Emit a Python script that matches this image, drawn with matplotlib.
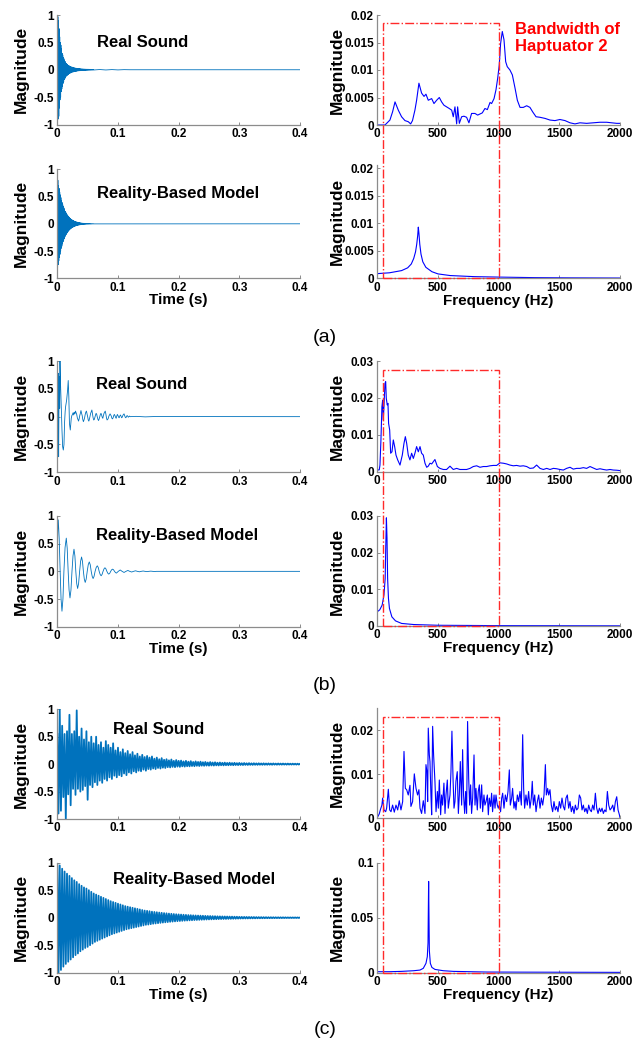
import numpy as np
import matplotlib
matplotlib.use("Agg")
import matplotlib.pyplot as plt
from matplotlib.patches import Rectangle

plt.rcParams["font.family"] = ["Liberation Sans", "DejaVu Sans"]
plt.rcParams["font.weight"] = "bold"
plt.rcParams["axes.labelweight"] = "bold"

W, H = 634, 1045
TIME_BLUE = "#0072BD"
SPEC_BLUE = "#0000FF"
AXIS_GRAY = "#8c8c8c"

# ---------------- time signals ----------------
# (a) short bursts, envelope extremes every 1 ms
a_step = 0.001
a1_upper = [0.55, 0.97, 0.9, 0.75, 0.6, 0.5, 0.45, 0.38, 0.3, 0.27,
            0.22, 0.2, 0.16, 0.15, 0.12, 0.11, 0.1, 0.09, 0.08, 0.07,
            0.07, 0.06, 0.06, 0.05, 0.05, 0.045, 0.04, 0.04, 0.035, 0.03,
            0.03, 0.028, 0.025, 0.024, 0.022, 0.02, 0.02, 0.018, 0.017, 0.016,
            0.015, 0.015, 0.014, 0.013, 0.012, 0.012, 0.011, 0.01, 0.01, 0.01,
            0.009, 0.009, 0.008, 0.008, 0.007, 0.007, 0.006, 0.006, 0.006, 0.005,
            0.005]
a1_lower = [-0.6, -0.9, -0.85, -0.7, -0.55, -0.5, -0.4, -0.35, -0.3, -0.25,
            -0.22, -0.18, -0.16, -0.14, -0.12, -0.11, -0.1, -0.09, -0.08, -0.07,
            -0.065, -0.06, -0.055, -0.05, -0.045, -0.04, -0.04, -0.035, -0.032, -0.03,
            -0.028, -0.026, -0.024, -0.022, -0.02, -0.019, -0.018, -0.017, -0.016, -0.015,
            -0.014, -0.013, -0.012, -0.012, -0.011, -0.01, -0.01, -0.009, -0.009, -0.008,
            -0.008, -0.007, -0.007, -0.007, -0.006, -0.006, -0.005, -0.005, -0.005, -0.004,
            -0.004]
a1_tail_t = [0.07, 0.08, 0.09, 0.1, 0.11, 0.12, 0.4]
a1_tail = [0.004, -0.004, 0.003, -0.003, 0.002, 0.0, 0.0]

a2_upper = [0.95, 0.8, 0.7, 0.65, 0.58, 0.53, 0.48, 0.43, 0.39, 0.35,
            0.32, 0.29, 0.26, 0.23, 0.21, 0.19, 0.17, 0.155, 0.14, 0.125,
            0.11, 0.1, 0.09, 0.082, 0.074, 0.066, 0.06, 0.054, 0.048, 0.044,
            0.04, 0.036, 0.032, 0.029, 0.026, 0.023, 0.021, 0.019, 0.017, 0.015,
            0.014, 0.012, 0.011, 0.01, 0.009, 0.008, 0.007, 0.0065, 0.006, 0.005,
            0.0045, 0.004, 0.0036, 0.0032, 0.003, 0.0027, 0.0024, 0.0022, 0.002, 0.0018,
            0.0016]
a2_lower = [-0.8, -0.75, -0.68, -0.62, -0.56, -0.5, -0.45, -0.41, -0.37, -0.33,
            -0.3, -0.27, -0.24, -0.22, -0.2, -0.18, -0.16, -0.145, -0.13, -0.118,
            -0.105, -0.095, -0.085, -0.078, -0.07, -0.063, -0.057, -0.051, -0.046, -0.042,
            -0.038, -0.034, -0.031, -0.028, -0.025, -0.022, -0.02, -0.018, -0.016, -0.015,
            -0.013, -0.012, -0.011, -0.0095, -0.0085, -0.0075, -0.007, -0.006, -0.0055, -0.005,
            -0.0045, -0.004, -0.0036, -0.0032, -0.0029, -0.0026, -0.0023, -0.0021, -0.0019, -0.0017,
            -0.0015]
a2_tail_t = [0.4]
a2_tail = [0.0]

# (b) real sound: first 24 ms point by point, then one value per ms
b1_head_ms = [0, 0.5, 1.0, 1.6, 2.2, 2.8, 3.3, 3.9, 4.4, 5.0,
              6.0, 7.0, 7.7, 8.8, 9.9, 11.0, 12.0, 13.0, 13.7, 15.4,
              17.0, 18.0, 19.0, 20.0, 21.4, 23.0, 24.0]
b1_head = [0.0, 0.25, -0.3, 0.78, -0.72, 0.35, 0.72, 0.15, 1.0, 0.7,
           0.36, 0.02, -0.24, -0.54, -0.6, -0.5, -0.1, 0.1, 0.18, 0.3,
           0.48, 0.65, 0.36, -0.12, -0.24, -0.03, 0.02]
b1_body_start_ms = 25
b1_body = [0.04, 0.07, 0.03, 0.08, 0.05, 0.1, 0.07, 0.04, -0.02, -0.05,
           -0.08, -0.04, 0.02, 0.06, 0.11, 0.06, 0.02, -0.05, -0.09, -0.06,
           -0.02, 0.04, 0.08, 0.1, 0.05, 0.0, -0.06, -0.08, -0.04, 0.01,
           0.06, 0.09, 0.12, 0.05, -0.02, -0.06, -0.05, -0.01, 0.03, 0.06,
           0.04, -0.01, -0.05, -0.07, -0.04, 0.0, 0.04, 0.06, 0.03, -0.01,
           -0.03, 0.02, 0.06, 0.08, 0.1, 0.05, -0.02, -0.06, -0.05, -0.03,
           0.01, 0.03, 0.05, 0.03, 0.01, -0.03, -0.04, -0.02, 0.02, 0.04,
           0.02, -0.01, -0.03, 0.01, 0.04, 0.02, -0.01, -0.02, 0.01, 0.03,
           0.01, -0.02, -0.01, 0.02, 0.04, 0.05, 0.02, -0.01, -0.02, 0.0,
           0.02, 0.01, -0.01, 0.0, 0.01, 0.0]
b1_end_ms = [130, 145, 160, 400]
b1_end = [0.005, -0.004, 0.002, 0.0]

b2_ms = [0, 0.8, 1.6, 3.1, 4.7, 6.2, 7.7, 9.3, 10.9, 12.8,
         14.8, 16.3, 17.9, 19.4, 20.9, 22.5, 24.2, 25.9, 27.5, 29.0,
         30.5, 32.0, 33.5, 35.1, 36.8, 38.4, 40.0, 41.5, 43.0, 44.5,
         46.0, 47.6, 49.3, 51.0, 52.7, 54.3, 55.9, 57.5, 59.0, 60.6,
         62.3, 64.1, 65.9, 67.5, 69.0, 70.6, 72.2, 73.8, 75.4, 77.0,
         78.5, 80.1, 81.7, 83.3, 84.8, 86.4, 88.0, 89.5, 91.1, 92.7,
         94.3, 95.9, 97.4, 100.5, 103.7, 106.8, 110.0, 113.1, 116.3, 119.4,
         122.6, 125.7, 128.9, 132.0, 135.2, 138.3, 141.5, 144.6, 147.8, 150.9,
         154.1, 157.2, 160.4, 163.5, 170, 400]
b2_val = [0.3, 0.75, 0.93, 0.6, 0.0, -0.5, -0.72, -0.5, 0.0, 0.43,
          0.6, 0.42, 0.0, -0.34, -0.48, -0.34, 0.0, 0.28, 0.4, 0.28,
          0.0, -0.22, -0.31, -0.22, 0.0, 0.18, 0.26, 0.18, 0.0, -0.14,
          -0.2, -0.14, 0.0, 0.12, 0.17, 0.12, 0.0, -0.09, -0.13, -0.09,
          0.0, 0.07, 0.1, 0.07, 0.0, -0.055, -0.08, -0.055, 0.0, 0.045,
          0.065, 0.045, 0.0, -0.035, -0.05, -0.035, 0.0, 0.028, 0.04, 0.028,
          0.0, -0.022, -0.032, 0.0, 0.025, 0.0, -0.02, 0.0, 0.016, 0.0,
          -0.012, 0.0, 0.01, 0.0, -0.008, 0.0, 0.006, 0.0, -0.005, 0.0,
          0.004, 0.0, -0.003, 0.0, 0.0, 0.0]

# (c) long decays, envelope extremes every 4 ms
c_step = 0.004
c1_upper = [0.55, 1.0, 0.7, 0.55, 0.6, 0.9, 0.55, 0.6, 0.98, 0.5,
            0.65, 0.45, 0.6, 0.4, 0.5, 0.38, 0.5, 0.35, 0.4, 0.3,
            0.42, 0.35, 0.3, 0.38, 0.25, 0.3, 0.22, 0.27, 0.2, 0.24,
            0.18, 0.22, 0.16, 0.19, 0.14, 0.17, 0.13, 0.15, 0.12, 0.14,
            0.1, 0.12, 0.09, 0.11, 0.08, 0.09, 0.07, 0.085, 0.06, 0.075,
            0.06, 0.065, 0.05, 0.06, 0.045, 0.055, 0.04, 0.05, 0.04, 0.045,
            0.035, 0.04, 0.03, 0.038, 0.03, 0.034, 0.026, 0.03, 0.024, 0.028,
            0.022, 0.026, 0.02, 0.024, 0.018, 0.022, 0.017, 0.02, 0.016, 0.019,
            0.015, 0.017, 0.014, 0.016, 0.013, 0.015, 0.012, 0.014, 0.011, 0.013,
            0.01, 0.012, 0.01, 0.011, 0.009, 0.01, 0.008, 0.009, 0.008, 0.008,
            0.007]
c1_lower = [-0.9, -0.85, -0.6, -1.0, -0.55, -0.75, -0.45, -0.56, -0.45, -0.5,
            -0.47, -0.4, -0.65, -0.38, -0.42, -0.33, -0.38, -0.3, -0.34, -0.27,
            -0.3, -0.24, -0.27, -0.21, -0.24, -0.2, -0.22, -0.17, -0.2, -0.15,
            -0.17, -0.13, -0.15, -0.12, -0.13, -0.1, -0.12, -0.09, -0.1, -0.08,
            -0.09, -0.07, -0.08, -0.065, -0.07, -0.055, -0.06, -0.05, -0.055, -0.045,
            -0.05, -0.04, -0.045, -0.038, -0.04, -0.034, -0.037, -0.03, -0.034, -0.028,
            -0.03, -0.026, -0.028, -0.024, -0.026, -0.022, -0.024, -0.02, -0.022, -0.019,
            -0.02, -0.017, -0.019, -0.016, -0.017, -0.015, -0.016, -0.014, -0.015, -0.013,
            -0.014, -0.012, -0.013, -0.011, -0.012, -0.011, -0.011, -0.01, -0.011, -0.009,
            -0.01, -0.009, -0.009, -0.008, -0.009, -0.008, -0.008, -0.007, -0.008, -0.007,
            -0.006]
c2_upper = [1.0, 0.95, 0.89, 0.84, 0.8, 0.76, 0.72, 0.68, 0.65, 0.61,
            0.58, 0.55, 0.53, 0.5, 0.47, 0.44, 0.42, 0.4, 0.38, 0.36,
            0.34, 0.32, 0.3, 0.285, 0.27, 0.255, 0.24, 0.225, 0.21, 0.2,
            0.19, 0.18, 0.17, 0.16, 0.15, 0.14, 0.13, 0.125, 0.118, 0.11,
            0.105, 0.1, 0.094, 0.089, 0.084, 0.08, 0.075, 0.071, 0.067, 0.063,
            0.06, 0.057, 0.054, 0.051, 0.048, 0.046, 0.043, 0.041, 0.039, 0.037,
            0.035, 0.033, 0.031, 0.03, 0.028, 0.027, 0.025, 0.024, 0.023, 0.022,
            0.021, 0.02, 0.019, 0.018, 0.017, 0.016, 0.015, 0.0145, 0.014, 0.013,
            0.0125, 0.012, 0.011, 0.0105, 0.01, 0.0095, 0.009, 0.0085, 0.008, 0.0077,
            0.0073, 0.007, 0.0066, 0.0063, 0.006, 0.0057, 0.0054, 0.0051, 0.0049, 0.0047,
            0.0045]
c2_lower = [-1.0, -0.95, -0.89, -0.84, -0.8, -0.76, -0.72, -0.68, -0.65, -0.61,
            -0.58, -0.55, -0.53, -0.5, -0.47, -0.44, -0.42, -0.4, -0.38, -0.36,
            -0.34, -0.32, -0.3, -0.285, -0.27, -0.255, -0.24, -0.225, -0.21, -0.2,
            -0.19, -0.18, -0.17, -0.16, -0.15, -0.14, -0.13, -0.125, -0.118, -0.11,
            -0.105, -0.1, -0.094, -0.089, -0.084, -0.08, -0.075, -0.071, -0.067, -0.063,
            -0.06, -0.057, -0.054, -0.051, -0.048, -0.046, -0.043, -0.041, -0.039, -0.037,
            -0.035, -0.033, -0.031, -0.03, -0.028, -0.027, -0.025, -0.024, -0.023, -0.022,
            -0.021, -0.02, -0.019, -0.018, -0.017, -0.016, -0.015, -0.0145, -0.014, -0.013,
            -0.0125, -0.012, -0.011, -0.0105, -0.01, -0.0095, -0.009, -0.0085, -0.008, -0.0077,
            -0.0073, -0.007, -0.0066, -0.0063, -0.006, -0.0057, -0.0054, -0.0051, -0.0049, -0.0047,
            -0.0045]

# ---------------- spectra ----------------
a1_freq = [0, 63, 77, 104, 126, 146, 173, 200, 228, 255,
           275, 290, 310, 324, 343, 365, 385, 401, 420, 448,
           467, 489, 511, 530, 549, 571, 593, 613, 626, 640,
           654, 662, 676, 695, 714, 736, 755, 777, 805, 827,
           846, 865, 887, 907, 929, 942, 962, 978, 992, 1005,
           1016, 1030, 1044, 1058, 1071, 1093, 1113, 1135, 1154, 1176,
           1203, 1231, 1258, 1280, 1308, 1341, 1382, 1423, 1464, 1505,
           1547, 1588, 1629, 1670, 1725, 1780, 1835, 1890, 1931, 1973,
           2000]
a1_mag = [0.0, 0.0, 0.0003, 0.0009, 0.0024, 0.0042, 0.0027, 0.0015, 0.0008, 0.0006,
          0.0002, 0.0008, 0.0027, 0.0045, 0.0076, 0.0058, 0.0052, 0.0056, 0.0045, 0.0048,
          0.0039, 0.0045, 0.005, 0.0042, 0.0036, 0.0033, 0.003, 0.0027, 0.0015, 0.0033,
          0.0002, 0.0033, 0.0003, 0.0015, 0.0016, 0.0014, 0.0004, 0.0021, 0.0021, 0.0018,
          0.002, 0.0022, 0.003, 0.0028, 0.0041, 0.0039, 0.0048, 0.0064, 0.0085, 0.0109,
          0.0148, 0.017, 0.0155, 0.0115, 0.0106, 0.01, 0.0091, 0.0067, 0.0045, 0.0032,
          0.0032, 0.0035, 0.0032, 0.0024, 0.0015, 0.0014, 0.0012, 0.0009, 0.0008, 0.001,
          0.0008, 0.0004, 0.0002, 0.0004, 0.0003, 0.0004, 0.0005, 0.0005, 0.0004, 0.0003,
          0.0003]

a2_freq = [0, 100, 200, 250, 280, 300, 315, 325, 333, 338,
           343, 350, 360, 375, 400, 450, 500, 600, 800, 1000,
           1300, 1600, 2000]
a2_mag = [0.00085, 0.001, 0.0014, 0.0019, 0.0026, 0.0036, 0.0048, 0.0062, 0.0078, 0.0093,
          0.0082, 0.0062, 0.0044, 0.003, 0.002, 0.0012, 0.0008, 0.0005, 0.0003, 0.00022,
          0.00012, 0.00008, 0.00005]

b1_freq = [0, 16, 22, 30, 38, 44, 49, 55, 63, 69,
           74, 82, 88, 93, 102, 110, 121, 132, 143, 154,
           168, 187, 206, 220, 231, 242, 255, 269, 283, 297,
           310, 324, 338, 352, 365, 379, 393, 407, 420, 434,
           448, 475, 495, 516, 544, 571, 599, 626, 654, 681,
           709, 736, 764, 791, 819, 846, 874, 901, 929, 956,
           984, 1011, 1038, 1066, 1093, 1121, 1148, 1176, 1203, 1231,
           1258, 1286, 1313, 1341, 1368, 1396, 1423, 1451, 1478, 1505,
           1533, 1560, 1588, 1615, 1643, 1670, 1698, 1725, 1753, 1780,
           1808, 1835, 1863, 1890, 1918, 1945, 1973, 2000]
b1_mag = [0.00045, 0.0005, 0.0018, 0.0086, 0.0176, 0.0194, 0.014, 0.0176, 0.0239, 0.0244,
          0.0199, 0.0181, 0.0185, 0.0131, 0.0113, 0.005, 0.0054, 0.0086, 0.0068, 0.0045,
          0.0032, 0.0018, 0.0045, 0.0077, 0.0095, 0.0077, 0.0045, 0.0032, 0.005, 0.0036,
          0.005, 0.0068, 0.0054, 0.0068, 0.005, 0.0045, 0.0023, 0.0012, 0.0015, 0.0023,
          0.0021, 0.0033, 0.0014, 0.0009, 0.0006, 0.0006, 0.0015, 0.0006, 0.0009, 0.0006,
          0.0006, 0.0006, 0.0009, 0.0014, 0.0016, 0.0012, 0.0014, 0.0014, 0.0016, 0.0017,
          0.0017, 0.0024, 0.0023, 0.0021, 0.0018, 0.0016, 0.0017, 0.0015, 0.0016, 0.0014,
          0.0009, 0.001, 0.0018, 0.0009, 0.0006, 0.0009, 0.0006, 0.0009, 0.0008, 0.0006,
          0.00045, 0.0009, 0.0012, 0.0007, 0.0009, 0.0009, 0.0011, 0.0009, 0.0014, 0.001,
          0.0006, 0.0008, 0.0006, 0.00045, 0.0006, 0.00045, 0.0004, 0.0003]

b2_freq = [0, 20, 40, 55, 65, 70, 75, 80, 85, 92,
           100, 120, 150, 200, 300, 500, 1000, 2000]
b2_mag = [0.0039, 0.0044, 0.0057, 0.0085, 0.013, 0.022, 0.0295, 0.024, 0.013, 0.0075,
          0.0048, 0.0025, 0.0014, 0.0007, 0.0004, 0.0002, 0.0001, 0.00005]

c1_freq = [0, 16, 27, 38, 44, 55, 69, 77, 91, 102,
           113, 126, 140, 154, 168, 181, 195, 209, 220, 231,
           242, 255, 269, 277, 291, 305, 319, 332, 343, 352,
           365, 379, 393, 401, 409, 415, 420, 429, 434, 442,
           448, 456, 464, 475, 484, 495, 503, 511, 522, 530,
           538, 549, 558, 566, 577, 585, 599, 607, 615, 624,
           632, 640, 648, 659, 668, 676, 684, 695, 703, 711,
           720, 728, 736, 744, 753, 761, 769, 777, 786, 797,
           805, 813, 824, 832, 841, 849, 860, 868, 879, 887,
           896, 907, 915, 923, 934, 942, 950, 962, 970, 978,
           989, 997, 1005, 1016, 1025, 1033, 1044, 1055, 1066, 1077,
           1088, 1096, 1107, 1115, 1126, 1135, 1143, 1154, 1165, 1176,
           1187, 1198, 1206, 1214, 1225, 1236, 1247, 1258, 1269, 1277,
           1286, 1297, 1308, 1319, 1330, 1341, 1352, 1363, 1374, 1385,
           1393, 1404, 1412, 1423, 1434, 1445, 1456, 1467, 1478, 1489,
           1500, 1511, 1522, 1533, 1544, 1555, 1566, 1577, 1588, 1599,
           1610, 1621, 1632, 1643, 1654, 1665, 1676, 1687, 1698, 1709,
           1720, 1731, 1742, 1753, 1764, 1775, 1786, 1797, 1808, 1819,
           1830, 1841, 1852, 1863, 1874, 1885, 1896, 1907, 1918, 1929,
           1940, 1951, 1962, 1973, 1984, 1995, 2000]
c1_mag = [0.00015, 0.001, 0.0021, 0.003, 0.0046, 0.0019, 0.0015, 0.0023, 0.0066, 0.0019,
          0.0015, 0.003, 0.0014, 0.003, 0.0019, 0.004, 0.0019, 0.0038, 0.0152, 0.0068,
          0.0065, 0.0053, 0.0075, 0.0027, 0.0038, 0.0101, 0.0068, 0.0053, 0.0065, 0.0023,
          0.0011, 0.004, 0.0011, 0.0122, 0.0106, 0.0038, 0.0205, 0.0144, 0.0129, 0.0053,
          0.0008, 0.0209, 0.0144, 0.0084, 0.0015, 0.0061, 0.0023, 0.0087, 0.0008, 0.0053,
          0.003, 0.008, 0.0011, 0.0053, 0.0087, 0.0023, 0.0053, 0.0106, 0.0198, 0.0091,
          0.0023, 0.0038, 0.0084, 0.0106, 0.0011, 0.0053, 0.0129, 0.003, 0.0156, 0.0053,
          0.0011, 0.0061, 0.0011, 0.022, 0.0091, 0.003, 0.0076, 0.0011, 0.0046, 0.0144,
          0.003, 0.0068, 0.0019, 0.0061, 0.0076, 0.0023, 0.0076, 0.0015, 0.0053, 0.003,
          0.0038, 0.0053, 0.0008, 0.0046, 0.0027, 0.0057, 0.0015, 0.0053, 0.0023, 0.0053,
          0.003, 0.0023, 0.003, 0.0015, 0.0046, 0.0057, 0.0023, 0.0053, 0.0038, 0.0061,
          0.011, 0.003, 0.0046, 0.0068, 0.0023, 0.0038, 0.0019, 0.0053, 0.0038, 0.0061,
          0.003, 0.019, 0.0068, 0.0023, 0.0053, 0.003, 0.0061, 0.0023, 0.0046, 0.0084,
          0.003, 0.0053, 0.0015, 0.0038, 0.0053, 0.0023, 0.0046, 0.003, 0.0053, 0.0122,
          0.0053, 0.0068, 0.0053, 0.0065, 0.003, 0.0015, 0.0038, 0.0019, 0.0027, 0.0015,
          0.0038, 0.0023, 0.0046, 0.0027, 0.0019, 0.0046, 0.0053, 0.0023, 0.0038, 0.0015,
          0.0027, 0.0011, 0.003, 0.0019, 0.0023, 0.0053, 0.0046, 0.0019, 0.003, 0.0015,
          0.0023, 0.0011, 0.003, 0.0019, 0.0015, 0.003, 0.0019, 0.0057, 0.0023, 0.0011,
          0.0023, 0.0015, 0.0023, 0.0011, 0.0019, 0.0015, 0.0061, 0.003, 0.0019, 0.0023,
          0.003, 0.0015, 0.0038, 0.0049, 0.0019, 0.0008, 0.00015]

c2_freq = [0, 100, 200, 300, 352, 379, 401, 412, 418, 420,
           423, 426, 429, 437, 450, 475, 544, 626, 764, 901,
           1176, 1600, 2000]
c2_mag = [0.0009, 0.0009, 0.0012, 0.0018, 0.0024, 0.004, 0.0085, 0.0145, 0.027, 0.051,
          0.083, 0.05, 0.02, 0.0085, 0.0048, 0.003, 0.0018, 0.0012, 0.0009, 0.0006,
          0.0005, 0.0004, 0.0003]

# haptuator band drawn as a dash-dot box over each pair of spectra
band_lo, band_hi = 50, 1000
band_top = {"a": 0.0186, "b": 0.0276, "c": 0.0231}


def px_rect(left, top, right, bottom):
    return [left / W, 1 - bottom / H, (right - left) / W, (bottom - top) / H]


def zigzag(step, upper, lower):
    t = step * np.arange(len(upper))
    tt = np.column_stack([t, t + step / 2]).ravel()
    yy = np.column_stack([upper, lower]).ravel()
    return tt, yy


def style(ax):
    for side in ("top", "right"):
        ax.spines[side].set_visible(False)
    for side in ("left", "bottom"):
        ax.spines[side].set_color(AXIS_GRAY)
        ax.spines[side].set_linewidth(0.9)
    ax.tick_params(direction="in", length=2.5, width=0.7, color=AXIS_GRAY,
                   labelsize=8.5, pad=2.5)
    for lab in ax.get_xticklabels() + ax.get_yticklabels():
        lab.set_fontweight("bold")


def time_axes(rect, t, y, label, text_xy, xlabel=False, lw=0.6):
    ax = fig.add_axes(rect)
    ax.plot(t, y, color=TIME_BLUE, lw=lw)
    ax.set_xlim(0, 0.4)
    ax.set_ylim(-1, 1)
    ax.set_xticks([0, 0.1, 0.2, 0.3, 0.4], ["0", "0.1", "0.2", "0.3", "0.4"])
    ax.set_yticks([-1, -0.5, 0, 0.5, 1], ["-1", "-0.5", "0", "0.5", "1"])
    style(ax)
    ax.set_ylabel("Magnitude", fontsize=12.5, fontweight="bold")
    ax.yaxis.set_label_coords(-0.119, 0.5)
    if xlabel:
        ax.set_xlabel("Time (s)", fontsize=11, fontweight="bold")
        ax.xaxis.set_label_coords(0.5, -0.135)
    ax.text(text_xy[0], text_xy[1], label, transform=ax.transAxes,
            fontsize=12, fontweight="bold", ha="left", va="center")
    return ax


def spec_axes(rect, f, m, ymax, ticks, ticklabels, xlabel=False):
    ax = fig.add_axes(rect)
    ax.plot(f, m, color=SPEC_BLUE, lw=0.8)
    ax.set_xlim(0, 2000)
    ax.set_ylim(0, ymax)
    ax.set_xticks([0, 500, 1000, 1500, 2000], ["0", "500", "1000", "1500", "2000"])
    ax.set_yticks(ticks, ticklabels)
    style(ax)
    ax.set_ylabel("Magnitude", fontsize=12.5, fontweight="bold")
    ax.yaxis.set_label_coords(-0.133, 0.5)
    if xlabel:
        ax.set_xlabel("Frequency (Hz)", fontsize=11, fontweight="bold")
        ax.xaxis.set_label_coords(0.5, -0.135)
    return ax


def band_box(ax_top, ax_bottom, top):
    inv = fig.transFigure.inverted()
    x0, y1 = inv.transform(ax_top.transData.transform((band_lo, top)))
    x1, _ = inv.transform(ax_top.transData.transform((band_hi, top)))
    _, y0 = inv.transform(ax_bottom.transData.transform((band_lo, 0)))
    fig.add_artist(Rectangle((x0, y0), x1 - x0, y1 - y0, transform=fig.transFigure,
                             fill=False, edgecolor="#ff2a2a", linestyle="-.",
                             linewidth=1.0, zorder=10))


fig = plt.figure(figsize=(W / 100, H / 100), dpi=100)

# (a)
t, y = zigzag(a_step, a1_upper, a1_lower)
time_axes(px_rect(57.3, 15, 300, 124.5), np.r_[t, a1_tail_t], np.r_[y, a1_tail],
          "Real Sound", (0.164, 0.747))
t, y = zigzag(a_step, a2_upper, a2_lower)
time_axes(px_rect(57.3, 169.3, 300, 278.3), np.r_[t, a2_tail_t], np.r_[y, a2_tail],
          "Reality-Based Model", (0.163, 0.778), xlabel=True)
sa1 = spec_axes(px_rect(377.3, 15, 620, 125), a1_freq, a1_mag, 0.02,
                [0, 0.005, 0.01, 0.015, 0.02], ["0", "0.005", "0.01", "0.015", "0.02"])
sa2 = spec_axes(px_rect(377.3, 165, 620, 278.3), a2_freq, a2_mag, 0.0206,
                [0, 0.005, 0.01, 0.015, 0.02], ["0", "0.005", "0.01", "0.015", "0.02"],
                xlabel=True)
band_box(sa1, sa2, band_top["a"])
fig.text(515 / W, 1 - 38.3 / H, "Bandwidth of\nHaptuator 2", color="red",
         fontsize=12, fontweight="bold", ha="left", va="center", linespacing=1.15)

# (b)
b1_t = np.r_[b1_head_ms, b1_body_start_ms + np.arange(len(b1_body)), b1_end_ms] / 1000
time_axes(px_rect(57.3, 361, 300, 472.3), b1_t, np.r_[b1_head, b1_body, b1_end],
          "Real Sound", (0.158, 0.793))
time_axes(px_rect(57.3, 516, 300, 626.7), np.array(b2_ms) / 1000, b2_val,
          "Reality-Based Model", (0.16, 0.822), xlabel=True)
sb1 = spec_axes(px_rect(377.3, 361, 620, 471.7), b1_freq, b1_mag, 0.03,
                [0, 0.01, 0.02, 0.03], ["0", "0.01", "0.02", "0.03"])
sb2 = spec_axes(px_rect(377.3, 516, 620, 626), b2_freq, b2_mag, 0.03,
                [0, 0.01, 0.02, 0.03], ["0", "0.01", "0.02", "0.03"], xlabel=True)
band_box(sb1, sb2, band_top["b"])

# (c)
t, y = zigzag(c_step, c1_upper, c1_lower)
time_axes(px_rect(57.3, 709.3, 300, 819), t, y, "Real Sound", (0.228, 0.82), lw=1.3)
t, y = zigzag(c_step, c2_upper, c2_lower)
time_axes(px_rect(57.3, 862.7, 300, 972.7), t, y, "Reality-Based Model",
          (0.231, 0.843), xlabel=True, lw=1.3)
sc1 = spec_axes(px_rect(377.3, 708.3, 620, 818.3), c1_freq, c1_mag, 0.025,
                [0, 0.01, 0.02], ["0", "0.01", "0.02"])
sc2 = spec_axes(px_rect(377.3, 862.7, 620, 972.7), c2_freq, c2_mag, 0.1,
                [0, 0.05, 0.1], ["0", "0.05", "0.1"], xlabel=True)
band_box(sc1, sc2, band_top["c"])

for tag, ypx in (("(a)", 337), ("(b)", 685), ("(c)", 1030)):
    fig.text(325 / W, 1 - ypx / H, tag, fontsize=14, fontweight="normal",
             ha="center", va="center")

fig.savefig("out.png", dpi=100)
